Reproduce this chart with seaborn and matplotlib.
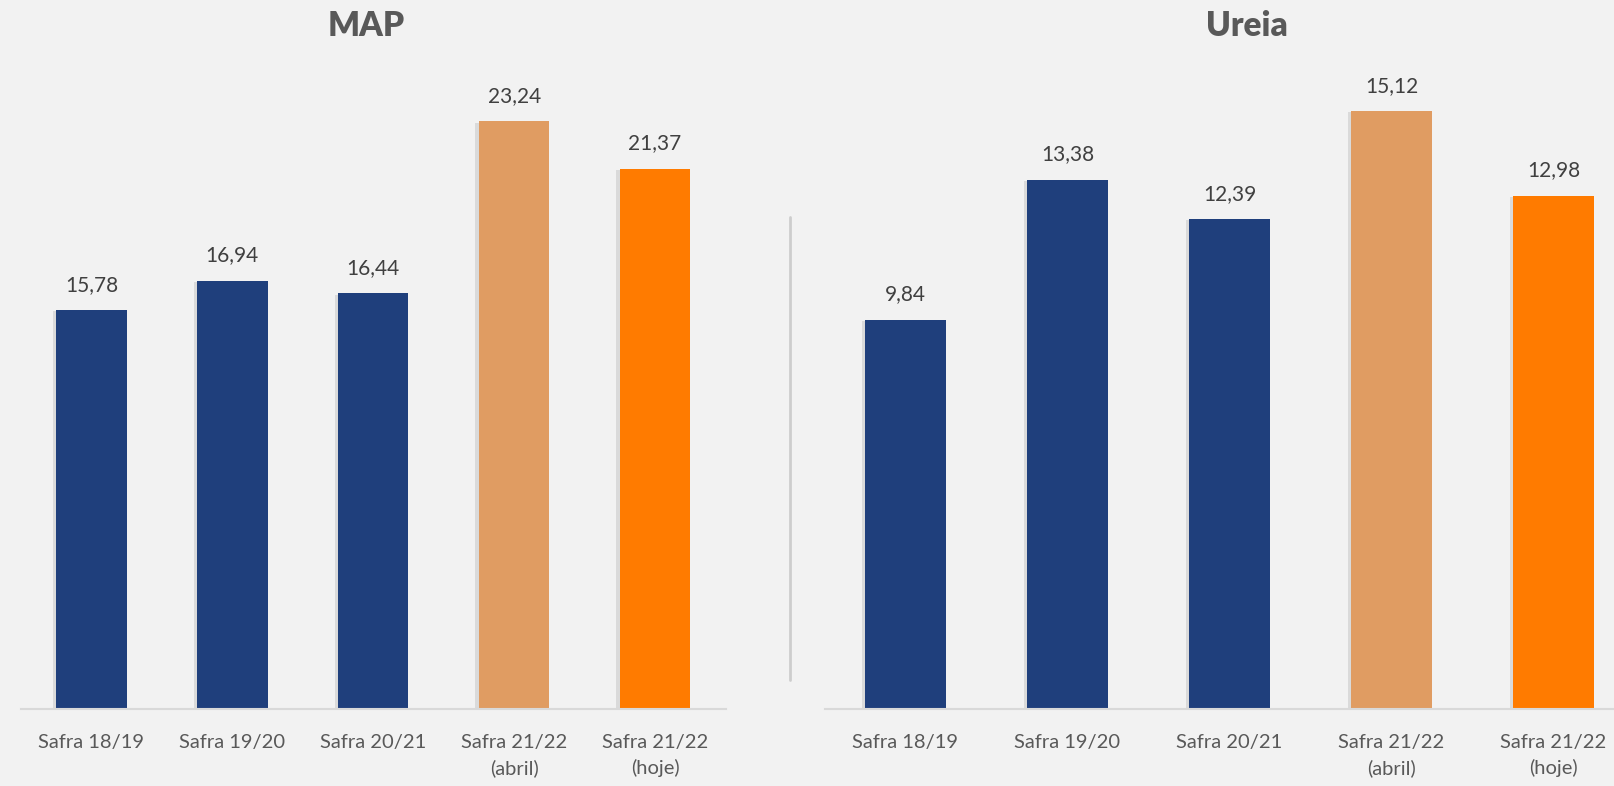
import matplotlib
matplotlib.use("Agg")
import matplotlib.pyplot as plt
import matplotlib.patheffects as pe
from matplotlib.lines import Line2D
import seaborn as sns
import pandas as pd

# ==================== dados ====================
categorias = ["Safra 18/19", "Safra 19/20", "Safra 20/21",
              "Safra 21/22\n(abril)", "Safra 21/22\n(hoje)"]
map_valores = [15.78, 16.94, 16.44, 23.24, 21.37]
ureia_valores = [9.84, 13.38, 12.39, 15.12, 12.98]
cores = ["#1f3f7c", "#1f3f7c", "#1f3f7c", "#e09c62", "#ff7b00"]

BG = "#f2f2f2"

sns.set_theme(style="white")
plt.rcParams['font.family'] = ['Lato', 'DejaVu Sans']

fig = plt.figure(figsize=(16.14, 7.86), dpi=100, facecolor=BG)

# posições em pixels convertidas para fração da figura
ax_map = fig.add_axes([21 / 1614, 77 / 786, 704.5 / 1614, 632 / 786])
ax_ure = fig.add_axes([824.5 / 1614, 77 / 786, 810 / 1614, 632 / 786])


def desenha(ax, valores, ymax):
    df = pd.DataFrame({"cat": categorias, "val": valores})
    sns.barplot(data=df, x="cat", y="val", hue="cat", palette=cores,
                width=0.5, legend=False, ax=ax, saturation=1, linewidth=0)
    ax.set_facecolor(BG)
    ax.set_ylim(0, ymax)
    ax.set_xlim(-0.5, 4.5)
    for p in ax.patches:
        p.set_path_effects([pe.SimplePatchShadow(offset=(-2.5, -1), alpha=0.12, shadow_rgbFace="#333333"),
                            pe.Normal()])
    for cont in ax.containers:
        ax.bar_label(cont, labels=[f"{v:.2f}".replace(".", ",") for v in cont.datavalues],
                     padding=11, fontsize=15, color="#404040")
    sns.despine(ax=ax, left=True, top=True, right=True)
    ax.spines["bottom"].set_color("#d9d9d9")
    ax.spines["bottom"].set_linewidth(1.5)
    ax.set_yticks([])
    ax.set_xlabel("")
    ax.set_ylabel("")
    ax.tick_params(axis="x", length=0, pad=18, labelsize=14.5, labelcolor="#595959")
    for t in ax.get_xticklabels():
        t.set_linespacing(1.55)


desenha(ax_map, map_valores, 25.0)
desenha(ax_ure, ureia_valores, 632 / 39.55)

fig.text(366 / 1614, 1 - 26 / 786, "MAP", ha="center", va="center",
         fontsize=24, fontweight="heavy", color="#595959")
fig.text(1247 / 1614, 1 - 26 / 786, "Ureia", ha="center", va="center",
         fontsize=24, fontweight="heavy", color="#595959")

# linha divisória
fig.add_artist(Line2D([790 / 1614, 790 / 1614], [1 - 217 / 786, 1 - 680 / 786],
                      color="#c4c4c4", linewidth=2, alpha=0.8))

fig.savefig("out.png", dpi=100, facecolor=BG)
